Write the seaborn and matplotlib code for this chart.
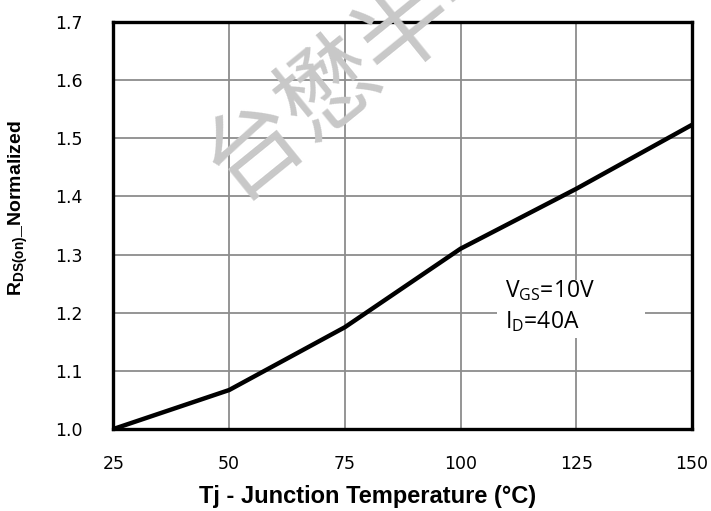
import matplotlib
matplotlib.use("Agg")
import matplotlib.pyplot as plt
from matplotlib.patches import Rectangle
import seaborn as sns
import pandas as pd

# Data
temperature = [25, 50, 75, 100, 125, 150]
rds_norm = [1.0, 1.067, 1.175, 1.31, 1.413, 1.523]
x_ticks = [25, 50, 75, 100, 125, 150]
y_ticks = [1.0, 1.1, 1.2, 1.3, 1.4, 1.5, 1.6, 1.7]
y_tick_labels = ["1.0", "1.1", "1.2", "1.3", "1.4", "1.5", "1.6", "1.7"]

sns.set_style("white")
plt.rcParams["font.family"] = ["DejaVu Sans"]
plt.rcParams["mathtext.fontset"] = "custom"
plt.rcParams["mathtext.rm"] = "Open Sans"
plt.rcParams["mathtext.bf"] = "Liberation Sans:bold"
plt.rcParams["text.color"] = "black"
plt.rcParams["axes.labelcolor"] = "black"
plt.rcParams["xtick.color"] = "black"
plt.rcParams["ytick.color"] = "black"
plt.rcParams["xtick.labelcolor"] = "black"
plt.rcParams["ytick.labelcolor"] = "black"

fig = plt.figure(figsize=(7.11, 5.11), dpi=100)
ax = fig.add_axes([0.1596, 0.1605, 0.8135, 0.7965])

df = pd.DataFrame({"Tj": temperature, "R": rds_norm})
sns.lineplot(data=df, x="Tj", y="R", color="black", linewidth=3.2, ax=ax, zorder=5)

ax.set_xlim(25, 150)
ax.set_ylim(1.0, 1.7)
ax.set_xticks(x_ticks)
ax.set_yticks(y_ticks)
ax.set_yticklabels(y_tick_labels)
ax.grid(True, color="#8c8c8c", linewidth=1.3)
ax.set_axisbelow(True)
ax.tick_params(axis="x", length=0, pad=19, labelsize=12.5, labelcolor="black")
ax.tick_params(axis="y", length=0, pad=22, labelsize=12.5, labelcolor="black")
for s in ax.spines.values():
    s.set_visible(True)
    s.set_color("black")
    s.set_linewidth(2.4)

ax.set_xlabel("Tj - Junction Temperature (°C)", fontsize=17, fontweight="bold",
              family="Liberation Sans", color="black")
ax.xaxis.set_label_coords(368 / 711, 1 - 485 / 511, transform=fig.transFigure)
ax.set_ylabel(r"$\mathbf{R_{DS(on)}}$_Normalized", fontsize=14, fontweight="bold",
              family="Liberation Sans", color="black")
ax.yaxis.set_label_coords(30 / 711, 1 - 208 / 511, transform=fig.transFigure)

# watermark
fig.text(405 / 711, 1 - 25 / 511, "台懋半导体", fontsize=70, color="#c8c8c8",
         family=["Noto Sans CJK SC", "DejaVu Sans"], rotation=39,
         ha="center", va="center", zorder=0)

# annotation box
ax.add_patch(Rectangle((107.8, 1.156), 32.0, 0.10, facecolor="white",
                       edgecolor="none", zorder=3))
ax.text(109.6, 1.238, r"V$_{\mathrm{GS}}$=10V", fontsize=16.5, family="Open Sans",
        va="center", ha="left", zorder=4, color="black")
ax.text(109.6, 1.184, r"I$_{\mathrm{D}}$=40A", fontsize=16.5, family="Open Sans",
        va="center", ha="left", zorder=4, color="black")

fig.savefig("out.png", dpi=100)
